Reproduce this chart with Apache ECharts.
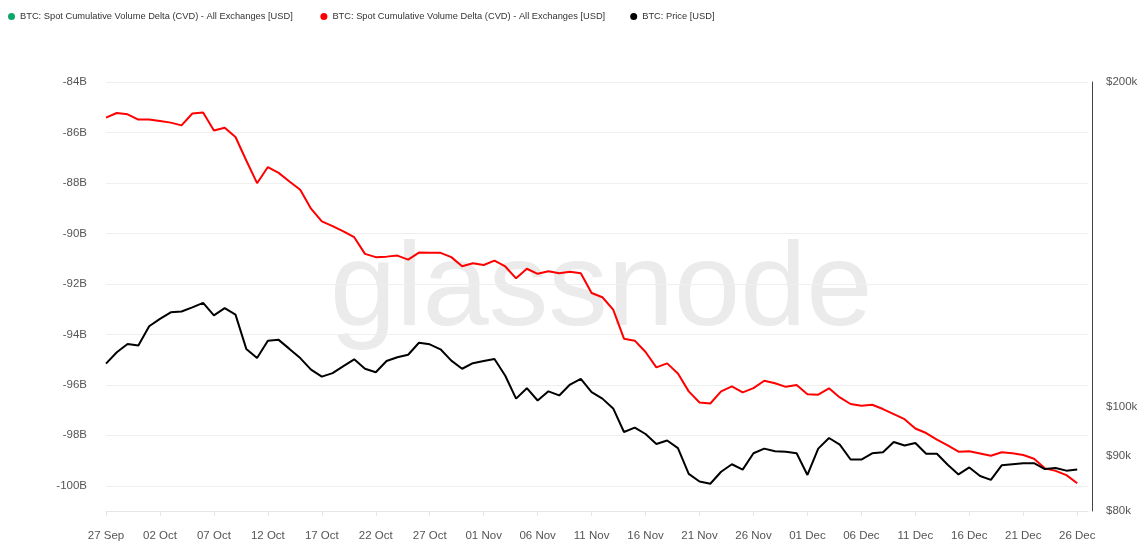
<!DOCTYPE html>
<html>
<head>
<meta charset="utf-8">
<title>BTC Spot CVD vs Price</title>
<script src="https://cdn.jsdelivr.net/npm/echarts@6/dist/echarts.min.js"></script>
<style>
    html, body { margin: 0; padding: 0; background: #fff; }
    #mycharts { width: 1143px; height: 542px; }
</style>
</head>
<body>
<div id="mycharts"></div>
<script>
// daily categories, 27 Sep -> 27 Dec (last day has no data)
const months = ['Jan', 'Feb', 'Mar', 'Apr', 'May', 'Jun', 'Jul', 'Aug', 'Sep', 'Oct', 'Nov', 'Dec'];
const dates = [];
for (let d = new Date(Date.UTC(2025, 8, 27)); d <= new Date(Date.UTC(2025, 11, 27)); d.setUTCDate(d.getUTCDate() + 1)) {
    dates.push(String(d.getUTCDate()).padStart(2, '0') + ' ' + months[d.getUTCMonth()]);
}

// spot CVD, billions USD (red)
const cvd = [
    -85.41, -85.23, -85.28, -85.49, -85.49, -85.55, -85.61, -85.72, -85.25, -85.21,
    -85.92, -85.81, -86.18, -87.11, -88.01, -87.37, -87.60, -87.94, -88.27, -89.02,
    -89.52, -89.71, -89.92, -90.15, -90.81, -90.94, -90.92, -90.88, -91.04, -90.76,
    -90.77, -90.77, -90.94, -91.30, -91.18, -91.25, -91.08, -91.31, -91.78, -91.40,
    -91.60, -91.50, -91.58, -91.52, -91.58, -92.36, -92.53, -93.02, -94.17, -94.25,
    -94.70, -95.31, -95.15, -95.55, -96.26, -96.70, -96.74, -96.26, -96.06, -96.30,
    -96.13, -95.84, -95.94, -96.08, -96.01, -96.37, -96.39, -96.14, -96.50, -96.76,
    -96.83, -96.79, -96.96, -97.16, -97.36, -97.73, -97.91, -98.17, -98.40, -98.65,
    -98.63, -98.72, -98.81, -98.67, -98.71, -98.78, -98.93, -99.31, -99.41, -99.58,
    -99.90
];

// BTC price, USD (black, log axis)
const price = [
    109600, 112300, 114300, 113900, 118700, 120600, 122300, 122500, 123600, 124800,
    121500, 123400, 121700, 113100, 110900, 115100, 115300, 113100, 110900, 108200,
    106600, 107400, 109000, 110600, 108400, 107600, 110200, 111100, 111700, 114600,
    114200, 113000, 110300, 108400, 109700, 110200, 110700, 106800, 101700, 104000,
    101300, 103300, 102400, 104800, 106100, 103100, 101700, 99600, 94700, 95600,
    94300, 92300, 93000, 91500, 86600, 85200, 84800, 87000, 88400, 87400,
    90500, 91400, 90900, 90800, 90500, 86400, 91400, 93500, 92200, 89300,
    89300, 90500, 90700, 92700, 92000, 92500, 90400, 90400, 88300, 86500,
    87800, 86200, 85500, 88200, 88400, 88600, 88600, 87500, 87700, 87200,
    87400
];

// green CVD series only appears in the legend
const cvdGreen = [];

const cvdTicks = [-100, -98, -96, -94, -92, -90, -88, -86, -84];
const priceTicks = [80000, 90000, 100000, 200000];

const legendName = 'BTC: Spot Cumulative Volume Delta (CVD) - All Exchanges [USD]';
const axisFont = 'Liberation Sans, Arial, sans-serif';

const chart = echarts.init(document.getElementById('mycharts'), null, {renderer: 'canvas'});

chart.setOption({
    animation: false,
    backgroundColor: '#fff',
    textStyle: {fontFamily: axisFont},
    legend: {
        left: 3,
        top: 7,
        icon: 'circle',
        itemWidth: 7,
        itemHeight: 7,
        itemGap: 25,
        textStyle: {fontSize: 9.3, color: '#333', fontFamily: axisFont},
        data: [
            {name: legendName + ' ', itemStyle: {color: '#0ca86a'}},
            {name: legendName, itemStyle: {color: '#ff0000'}},
            {name: 'BTC: Price [USD]', itemStyle: {color: '#000'}}
        ]
    },
    graphic: [{
        type: 'text',
        left: 330,
        top: 233,
        z: 0,
        silent: true,
        style: {
            text: 'glassnode',
            font: '119px "Liberation Sans", Arial, sans-serif',
            fill: '#ebebeb'
        }
    }],
    grid: {left: 106, right: 55, top: 82, bottom: 31, containLabel: false},
    xAxis: {
        type: 'category',
        boundaryGap: false,
        data: dates,
        axisLine: {lineStyle: {color: '#e6e6e6'}},
        axisTick: {show: true, interval: 4, length: 5, lineStyle: {color: '#e6e6e6'}},
        axisLabel: {interval: 4, fontSize: 11.5, color: '#555', margin: 19},
        splitLine: {show: false}
    },
    yAxis: [{
        type: 'value',
        min: -101,
        max: -84,
        position: 'left',
        axisLine: {show: false},
        axisTick: {show: false, customValues: cvdTicks},
        axisLabel: {
            customValues: cvdTicks,
            fontSize: 11.5,
            color: '#555',
            margin: 19,
            formatter: v => v + 'B'
        },
        splitLine: {lineStyle: {color: '#efefef', width: 1}}
    }, {
        type: 'log',
        min: 80000,
        max: 200000,
        position: 'right',
        offset: 4,
        axisLine: {show: true, lineStyle: {color: '#444', width: 1}},
        axisTick: {show: false, customValues: priceTicks},
        axisLabel: {
            customValues: priceTicks,
            fontSize: 11.5,
            color: '#555',
            margin: 14,
            formatter: v => '$' + Math.round(v / 1000) + 'k'
        },
        splitLine: {show: false}
    }],
    series: [{
        name: legendName + ' ',
        type: 'line',
        yAxisIndex: 0,
        data: cvdGreen,
        showSymbol: false,
        lineStyle: {color: '#0ca86a', width: 2}
    }, {
        name: legendName,
        type: 'line',
        yAxisIndex: 0,
        data: cvd,
        showSymbol: false,
        lineStyle: {color: '#ff0000', width: 2},
        itemStyle: {color: '#ff0000'}
    }, {
        name: 'BTC: Price [USD]',
        type: 'line',
        yAxisIndex: 1,
        data: price,
        showSymbol: false,
        lineStyle: {color: '#000', width: 2},
        itemStyle: {color: '#000'}
    }]
});
</script>
</body>
</html>
